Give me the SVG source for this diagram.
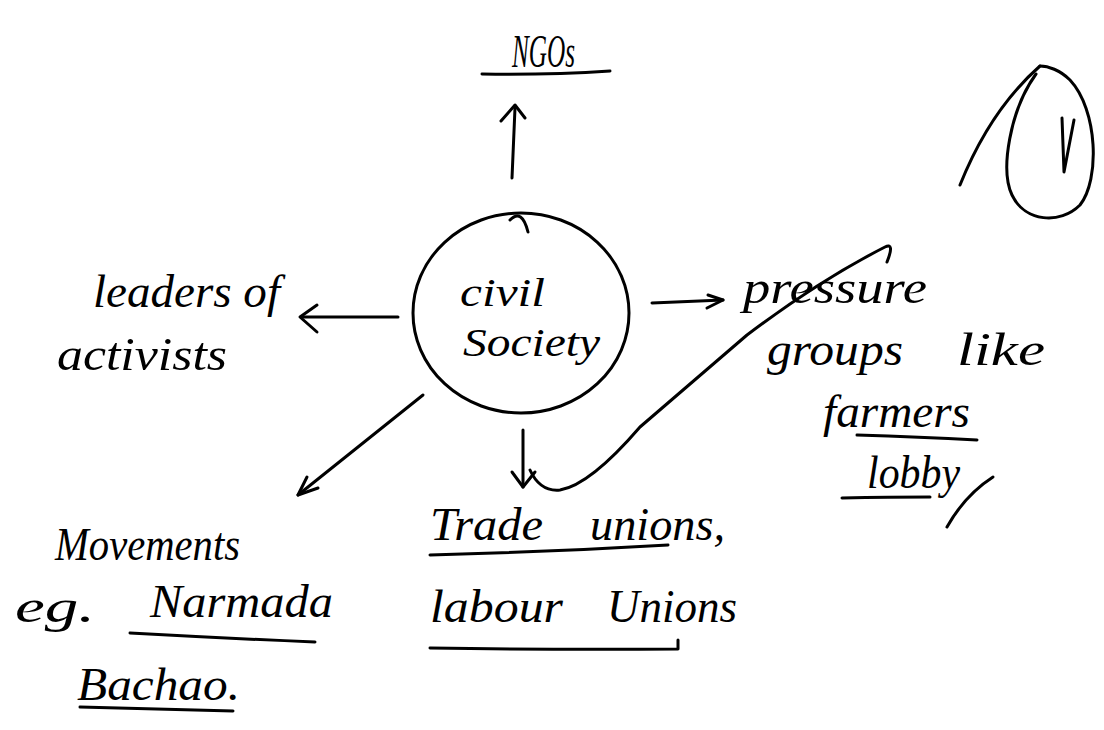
<svg xmlns="http://www.w3.org/2000/svg" width="1104" height="730" viewBox="0 0 1104 730">
<style>
.ink{fill:none;stroke:#000;stroke-width:3;stroke-linecap:round;stroke-linejoin:round}
.t{font-family:"Liberation Serif",serif;font-style:italic;fill:#000;font-size:46px}
.c{font-size:40px}
</style>
<rect width="1104" height="730" fill="#fff"/>
<g id="connectors" class="ink">
  <path d="M512 178 L515 108"/><path d="M501 121 L515 105 L525 118"/>
  <path d="M398 317 L302 317"/><path d="M317 305 L300 317 L317 332"/>
  <path d="M652 303 L723 300"/><path d="M708 295 L723 300 L707 308"/>
  <path d="M523 430 L523 487"/><path d="M512 472 L523 487 L535 472"/>
  <path d="M423 395 L298 495"/><path d="M318 488 L298 495 L307 477"/>
</g>
<g id="node-center">
  <ellipse class="ink" cx="521" cy="313" rx="108" ry="100"/>
  <path class="ink" d="M510 220 Q522 208 528 232"/>
  <text class="t c" x="460" y="306" textLength="85" lengthAdjust="spacingAndGlyphs">civil</text>
  <text class="t c" x="463" y="356" textLength="137" lengthAdjust="spacingAndGlyphs">Society</text>
</g>
<g id="node-ngos">
  <text class="t" x="512" y="67" font-size="36" textLength="63" lengthAdjust="spacingAndGlyphs">NGOs</text>
  <path class="ink" d="M482 74 Q550 75 610 71"/>
</g>
<g id="node-leaders">
  <text class="t" x="93" y="307" textLength="187" lengthAdjust="spacingAndGlyphs">leaders of</text>
  <text class="t" x="57" y="370" textLength="170" lengthAdjust="spacingAndGlyphs">activists</text>
</g>
<g id="node-pressure">
  <text class="t" x="743" y="303" textLength="184" lengthAdjust="spacingAndGlyphs">pressure</text>
  <text class="t" x="767" y="365" textLength="136" lengthAdjust="spacingAndGlyphs">groups</text>
  <text class="t" x="957" y="365" textLength="88" lengthAdjust="spacingAndGlyphs">like</text>
  <text class="t" x="823" y="427" textLength="147" lengthAdjust="spacingAndGlyphs">farmers</text>
  <path class="ink" d="M857 435 Q920 437 977 440"/>
  <text class="t" x="867" y="488" textLength="93" lengthAdjust="spacingAndGlyphs">lobby</text>
  <path class="ink" d="M842 498 Q890 497 930 497"/>
  <path class="ink" d="M947 527 Q965 495 993 477"/>
</g>
<g id="node-movements">
  <text class="t" x="55" y="560" textLength="185" lengthAdjust="spacingAndGlyphs">Movements</text>
  <text class="t" x="15" y="622" textLength="80" lengthAdjust="spacingAndGlyphs">eg.</text>
  <text class="t" x="150" y="617" textLength="183" lengthAdjust="spacingAndGlyphs">Narmada</text>
  <path class="ink" d="M130 633 Q220 638 315 642"/>
  <text class="t" x="77" y="700" textLength="163" lengthAdjust="spacingAndGlyphs">Bachao.</text>
  <path class="ink" d="M80 707 Q160 709 233 711"/>
</g>
<g id="node-unions">
  <text class="t" x="430" y="540" textLength="113" lengthAdjust="spacingAndGlyphs">Trade</text>
  <text class="t" x="590" y="540" textLength="135" lengthAdjust="spacingAndGlyphs">unions,</text>
  <path class="ink" d="M430 555 Q550 552 668 545"/>
  <text class="t" x="430" y="622" textLength="133" lengthAdjust="spacingAndGlyphs">labour</text>
  <text class="t" x="607" y="622" textLength="130" lengthAdjust="spacingAndGlyphs">Unions</text>
  <path class="ink" d="M430 648 Q560 650 678 649 L678 640"/>
</g>
<g id="scribble">
  <path class="ink" d="M530 470 Q540 492 560 490 Q590 485 640 427 L747 335 Q820 280 885 247 Q895 242 887 262"/>
</g>
<g id="mark">
  <path class="ink" d="M960 185 Q990 110 1040 66"/>
  <path class="ink" d="M1036 74 C1010 110 1000 170 1012 195 C1025 222 1060 225 1080 205 C1100 180 1098 110 1070 80 C1060 70 1048 66 1040 66"/>
  <path class="ink" d="M1062 118 L1064 172 L1074 120"/>
</g>
</svg>
